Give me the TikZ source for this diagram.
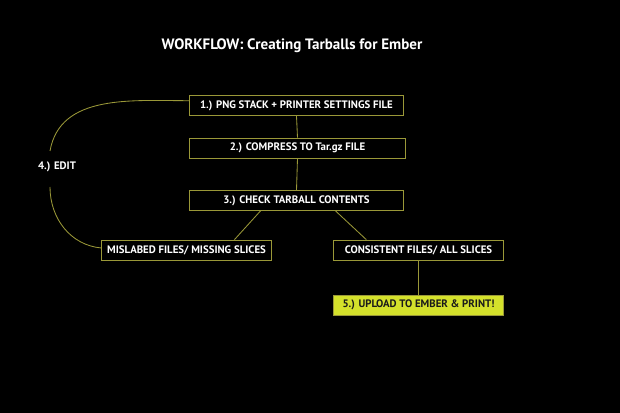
\documentclass[tikz,border=0pt]{standalone}
\usepackage{fontspec}
\setmainfont{PT Sans}
\usetikzlibrary{positioning}
\definecolor{cline}{HTML}{9A9838}
\definecolor{clime}{HTML}{D4E12B}
\definecolor{cink}{HTML}{1A1A1A}
\tikzset{
  every picture/.style={font=\bfseries, line width=0.6pt},
  box/.style={draw=cline, text=white, align=center, inner sep=2pt, minimum height=0.5cm, font=\bfseries\fontsize{7.7}{9}\selectfont},
  link/.style={draw=cline, line width=0.6pt},
  title/.style={text=white, font=\bfseries\fontsize{10.7}{13}\selectfont},
  note/.style={text=white, font=\bfseries\fontsize{7.7}{9}\selectfont},
}

\begin{document}
\begin{tikzpicture}[x=0.025cm, y=-0.025cm]
  \fill[black] (0,0) rectangle (620,413);
  \useasboundingbox (0,0) rectangle (620,413);
  \node[title] (head) at (292,46) {WORKFLOW: Creating Tarballs for Ember};
  % main column
  \node[box, minimum width=5.33cm] (png) at (296.5,105.5) {1.) PNG STACK + PRINTER SETTINGS FILE};
  \node[box, minimum width=5.38cm] (zip) at (297.5,148) {2.) COMPRESS TO Tar.gz FILE};
  \node[box, minimum width=5.33cm] (check) at (296.5,200.5) {3.) CHECK TARBALL CONTENTS};
  % outcomes
  \node[box, minimum width=4.23cm] (bad) at (186.5,250) {MISLABED FILES/ MISSING SLICES};
  \node[box, minimum width=4.23cm] (good) at (418.5,250) {CONSISTENT FILES/ ALL SLICES};
  \node[box, minimum width=4.23cm, fill=clime, text=cink] (upload) at (418.5,305) {5.) UPLOAD TO EMBER \& PRINT!};
  \node[note] (edit) at (57,167) {4.) EDIT};
  \coordinate (e1) at (50,151);
  \coordinate (e2) at (50,187);
  \draw[link] (png.south) -- (zip.north);
  \draw[link] (zip.south) -- (check.north);
  \draw[link] ([xshift=-0.9cm]check.south) -- ([xshift=1.2cm]bad.north);
  \draw[link] ([xshift=-1.7cm]check.south east) -- ([xshift=0.82cm]good.north west);
  \draw[link] (good.south) -- (upload.north);
  % edit loop
  \draw[link] ([yshift=0.12cm]png.west) to[out=180, in=80] (e1);
  \draw[link] (e2) to[out=-90, in=175] ([yshift=0.05cm]bad.west);
\end{tikzpicture}
\end{document}
